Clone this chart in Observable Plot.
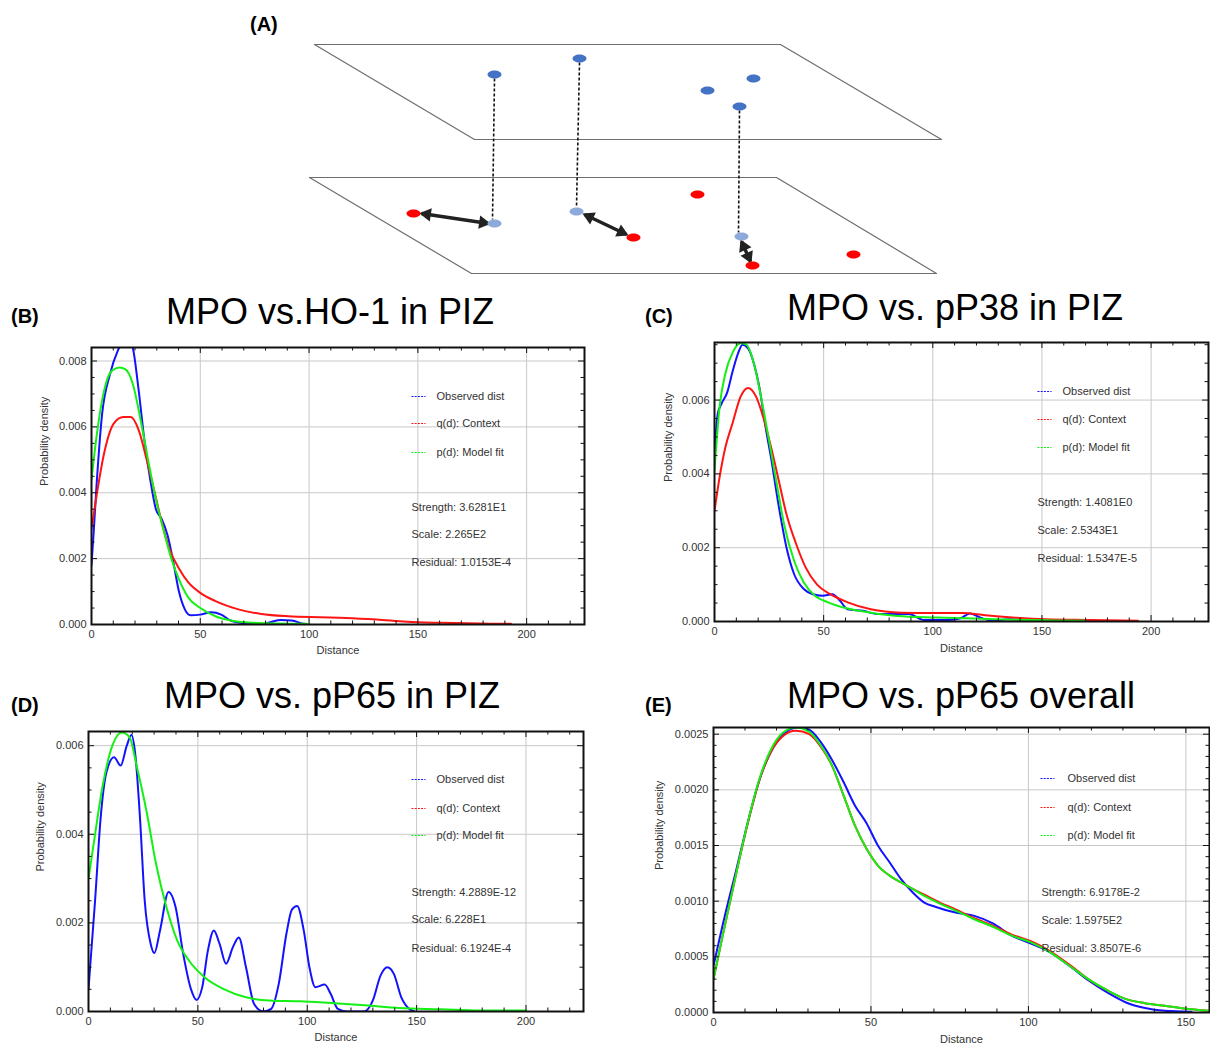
<!DOCTYPE html>
<html><head><meta charset="utf-8">
<script src="https://cdn.jsdelivr.net/npm/d3@7"></script>
<script src="https://cdn.jsdelivr.net/npm/@observablehq/plot@0.6"></script>
<style>
body{margin:0;background:#fff;font-family:"Liberation Sans",Arial,sans-serif;}
#root{position:relative;width:1210px;height:1044px;overflow:hidden;background:#fff;}
.abs{position:absolute;}
.title{font-size:36px;white-space:nowrap;transform:translateX(-50%);line-height:1;color:#000;}
.plabel{font-weight:bold;font-size:20px;line-height:1;color:#000;}
</style></head><body><div id="root"></div><script>
// ---------- Panel A schematic ----------
const planeUpper = [[314,44],[780,44],[941,139],[474,139],[314,44]];
const planeLower = [[309,177],[776,177],[936,273],[471,273],[309,177]];
const dotsBlue = [[494,74],[579,58],[707,90],[753,78],[739,106]];
const dotsLightBlue = [[494,223],[576,211],[741,236]];
const dotsRed = [[413,213],[633,237],[697,194],[752,265],[853,254]];
const connectors = [[494,78,492,219],[579,62,576,207],[739,110,738,232]];
const arrows = [[421,213,488,223],[584,214,626,234],[741,241,750,261]];

// ---------- Titles / labels ----------
const titles = ["MPO vs.HO-1 in PIZ","MPO vs. pP38 in PIZ","MPO vs. pP65 in PIZ","MPO vs. pP65 overall"];
const panelLetters = ["(A)","(B)","(C)","(D)","(E)"];
const legendLabels = ["Observed dist","q(d): Context","p(d): Model fit"];
const legendColors = ["#1212ff","#ff1414","#14f014"];
const xTicks200 = [0,50,100,150,200];
const xTicks150 = [0,50,100,150];
const yTicksPIZ = [0,0.002,0.004,0.006,0.008];
const yTicksOverall = [0,0.0005,0.001,0.0015,0.002,0.0025];

// ---------- Panel B ----------
const bObserved = [[0,0.0018],[1,0.0028],[2.3,0.0042],[4.9,0.0064],[8.5,0.0076],[12,0.0083],[14.6,0.0086],[17,0.0087],[19,0.0084],[21.7,0.0071],[24.3,0.0056],[27,0.0044],[29.6,0.0035],[32.3,0.0032],[35,0.0027],[37.6,0.0019],[40.2,0.001],[42.9,0.00046],[45.5,0.00028],[50,0.0003],[55,0.00037],[59.6,0.0003],[64,0.00012],[71,0.00003],[78,0],[82.5,0.00008],[87,0.00014],[92,0.00012],[97.5,0.00002],[99,0]];
const bContext = [[0,0.0029],[2.3,0.0039],[5.8,0.0052],[10.2,0.0061],[14.6,0.0063],[18,0.0063],[21.7,0.0059],[25,0.0051],[28.7,0.0041],[32.3,0.0031],[35.8,0.0023],[40.2,0.0017],[44.6,0.00127],[50,0.00096],[57,0.00071],[67.5,0.00046],[78,0.00032],[90.5,0.00025],[104.6,0.00022],[117,0.0002],[131,0.00015],[145,0.00008],[161,0.00005],[178.7,0.00003],[192.8,0.00002]];
const bModel = [[0,0.0044],[2.3,0.0057],[5.8,0.0071],[9.3,0.0077],[12.9,0.0078],[15.5,0.00775],[19,0.0073],[22.6,0.0062],[26,0.005],[29.6,0.0038],[33,0.0029],[36.7,0.002],[40.2,0.00137],[44.6,0.00081],[50,0.0005],[57,0.00025],[64,0.00012],[74.6,0.00005],[85,0.00003],[99,0.00002]];
const bStats = ["Strength: 3.6281E1","Scale: 2.265E2","Residual: 1.0153E-4"];

// ---------- Panel C ----------
const cObserved = [[0,0.0045],[1.4,0.0056],[3.2,0.0059],[5.8,0.0062],[8.4,0.0068],[11,0.0073],[12.8,0.0075],[15.4,0.0074],[18,0.007],[20.7,0.0063],[23.3,0.0053],[26,0.0044],[29.5,0.0031],[33,0.002],[36.5,0.00128],[40.9,0.00088],[45,0.00074],[49.6,0.0007],[54,0.00074],[57.5,0.00056],[61,0.00033],[68,0.00029],[75,0.0002],[84,0.0002],[89,0.0002],[96,0.00004],[106.7,0.00004],[112.8,0.00009],[117,0.00022],[121.6,0.00011],[127.7,0.00002],[134.7,0.00006],[141.7,0.00004]];
const cContext = [[0,0.003],[2.3,0.0039],[4.9,0.0047],[8.4,0.0054],[12,0.0061],[15.4,0.00633],[19,0.0061],[22.5,0.0055],[26,0.0047],[29.5,0.0038],[33,0.0029],[37.4,0.0021],[41.8,0.00146],[47,0.001],[53,0.00074],[61,0.00052],[71.6,0.00033],[85.6,0.00024],[101,0.00023],[113.7,0.00023],[124,0.00017],[136.5,0.00011],[152,0.00006],[171.6,0.00004],[194,0.00002]];
const cModel = [[0,0.0041],[2.3,0.0058],[4.9,0.0067],[8.4,0.0073],[12,0.00754],[14.6,0.0075],[18,0.007],[21.6,0.006],[25,0.0049],[28.6,0.0037],[32,0.0026],[36.5,0.00164],[40.9,0.00106],[46,0.0007],[52,0.00052],[61,0.00035],[71.6,0.00024],[84,0.00015],[101,0.00011],[119,0.00008],[136.5,0.00005],[154,0.00003],[170,0.00002]];
const cStats = ["Strength: 1.4081E0","Scale: 2.5343E1","Residual: 1.5347E-5"];

// ---------- Panel D ----------
const dObserved = [[0,0.00051],[3,0.0025],[5.6,0.0044],[8.2,0.0054],[11.7,0.00574],[14.7,0.00555],[17.5,0.006],[19.6,0.00624],[21.4,0.0058],[23.5,0.0044],[25.7,0.0025],[28.4,0.00153],[30.1,0.00132],[32.7,0.00183],[36.6,0.0027],[39.8,0.00236],[43.3,0.0013],[46.8,0.00051],[49.4,0.00026],[52,0.00055],[54.6,0.00138],[57.3,0.00183],[59.9,0.00153],[62.9,0.00108],[66,0.00145],[68.7,0.00167],[72,0.001],[75.7,0.00017],[80,0],[83.5,0.00006],[87,0.00063],[90.5,0.00176],[93,0.0023],[95.4,0.00238],[98.4,0.00183],[101,0.001],[103.7,0.00055],[108,0.00061],[110.7,0.0004],[114,0.00006],[118.6,0],[126,0],[130,0.00025],[133.5,0.00081],[136.6,0.001],[139.6,0.00085],[143,0.00032],[146.6,0.00006],[149,0]];
const dModel = [[0,0.003],[3,0.004],[6.5,0.0051],[10.9,0.006],[15.2,0.0063],[18.7,0.0062],[22.2,0.0055],[26.6,0.0045],[31,0.0033],[35.4,0.0024],[40.6,0.0016],[45.9,0.00115],[52.9,0.00078],[61.6,0.00051],[72,0.00032],[82.7,0.00025],[96.7,0.00023],[110.7,0.00019],[126.4,0.00014],[142,0.00008],[161.5,0.00005],[179,0.00002],[200,0.00002]];
const dStats = ["Strength: 4.2889E-12","Scale: 6.228E1","Residual: 6.1924E-4"];

// ---------- Panel E ----------
const eObserved = [[0,0.00042],[3.6,0.00087],[7.3,0.00129],[10.9,0.00171],[14.6,0.00209],[18.2,0.00234],[21.9,0.00249],[26.7,0.00256],[30.4,0.00254],[34,0.00243],[37.6,0.00227],[41.3,0.00207],[44.9,0.00186],[48.6,0.0017],[52.2,0.0015],[55.9,0.00135],[59.5,0.0012],[63.2,0.00108],[66.8,0.00099],[70.4,0.00095],[76.5,0.0009],[82.6,0.00087],[88.7,0.0008],[94.7,0.00069],[100.8,0.00062],[106.9,0.00054],[113,0.00042],[119,0.00029],[125,0.00018],[131,0.00009],[137,0.00004],[143.3,0.000015],[151.8,0.000006]];
const eContext = [[0,0.0003],[3.6,0.00078],[7.3,0.00126],[10.9,0.0017],[14.6,0.00209],[18.2,0.00234],[21.9,0.00248],[26.1,0.00253],[30.4,0.0025],[34,0.00239],[37.6,0.00222],[41.3,0.00195],[44.9,0.00168],[48.6,0.00147],[52.2,0.00132],[55.9,0.00123],[59.5,0.00117],[63.2,0.00111],[66.8,0.00106],[71.7,0.00099],[76.5,0.00093],[82.6,0.00085],[88.7,0.00078],[94.7,0.0007],[100.8,0.00064],[106.9,0.00055],[113,0.00043],[119,0.0003],[125,0.0002],[131,0.00012],[137,0.000084],[143.3,0.00006],[149.4,0.000036],[157.3,0.000015]];
const eModel = [[0,0.0003],[3.6,0.00078],[7.3,0.00126],[10.9,0.00171],[14.6,0.0021],[18.2,0.00236],[21.9,0.00251],[26.1,0.00256],[30.4,0.00252],[34,0.0024],[37.6,0.00222],[41.3,0.00195],[44.9,0.00168],[48.6,0.00147],[52.2,0.00132],[55.9,0.00123],[59.5,0.00117],[63.2,0.00111],[66.8,0.00105],[71.7,0.00098],[76.5,0.00092],[82.6,0.00084],[88.7,0.00077],[94.7,0.00069],[100.8,0.00063],[106.9,0.00054],[113,0.00042],[119,0.0003],[125,0.0002],[131,0.00012],[137,0.000084],[143.3,0.00006],[149.4,0.000036],[157.3,0.000015]];
const eStats = ["Strength: 6.9178E-2","Scale: 1.5975E2","Residual: 3.8507E-6"];

const root = document.getElementById("root");
function place(node, left, top) {
  const d = document.createElement("div");
  d.className = "abs"; d.style.left = left + "px"; d.style.top = top + "px";
  d.appendChild(node); root.appendChild(d); return d;
}
function addText(txt, cls, left, top) {
  const d = document.createElement("div");
  d.className = "abs " + cls; d.textContent = txt;
  d.style.left = left + "px"; d.style.top = top + "px";
  root.appendChild(d);
}

// ---- Panel A ----
const ellipse = {
  draw(ctx, size) {
    const r = Math.sqrt(size / Math.PI), rx = r, ry = r * 0.58, k = 0.5523;
    ctx.moveTo(rx, 0);
    ctx.bezierCurveTo(rx, ry * k, rx * k, ry, 0, ry);
    ctx.bezierCurveTo(-rx * k, ry, -rx, ry * k, -rx, 0);
    ctx.bezierCurveTo(-rx, -ry * k, -rx * k, -ry, 0, -ry);
    ctx.bezierCurveTo(rx * k, -ry, rx, -ry * k, rx, 0);
    ctx.closePath();
  }
};
const hline = {
  draw(ctx, size) {
    const r = Math.sqrt(size / Math.PI);
    ctx.moveTo(-r, 0); ctx.lineTo(r, 0);
  }
};
const heads = [];
arrows.forEach(([x1, y1, x2, y2]) => {
  const a = Math.atan2(y2 - y1, x2 - x1), L = 5.5;
  heads.push({x: x2 - L * Math.cos(a), y: y2 - L * Math.sin(a), r: a * 180 / Math.PI + 90});
  heads.push({x: x1 + L * Math.cos(a), y: y1 + L * Math.sin(a), r: a * 180 / Math.PI - 90});
});
const plotA = Plot.plot({
  width: 1210, height: 280, margin: 0,
  x: {domain: [0, 1210], range: [0, 1210], axis: null},
  y: {domain: [0, 280], range: [0, 280], axis: null},
  marks: [
    Plot.line(planeUpper, {x: d => d[0], y: d => d[1], stroke: "#6e6e6e", strokeWidth: 1.2}),
    Plot.line(planeLower, {x: d => d[0], y: d => d[1], stroke: "#6e6e6e", strokeWidth: 1.2}),
    Plot.link(connectors, {x1: d => d[0], y1: d => d[1], x2: d => d[2], y2: d => d[3], stroke: "#111", strokeWidth: 1.6, strokeDasharray: "3,2"}),
    Plot.link(arrows, {x1: d => d[0], y1: d => d[1], x2: d => d[2], y2: d => d[3], stroke: "#222", strokeWidth: 3.5}),
    Plot.dot(heads, {x: "x", y: "y", rotate: "r", symbol: "triangle", r: 5, fill: "#222", stroke: "none"}),
    Plot.dot(dotsBlue, {x: d => d[0], y: d => d[1], symbol: ellipse, r: 7, fill: "#4472c4", stroke: "none"}),
    Plot.dot(dotsLightBlue, {x: d => d[0], y: d => d[1], symbol: ellipse, r: 7, fill: "#8eaadb", stroke: "none"}),
    Plot.dot(dotsRed, {x: d => d[0], y: d => d[1], symbol: ellipse, r: 7, fill: "#ff0000", stroke: "none"})
  ]
});
place(plotA, 0, 0);
addText(panelLetters[0], "plabel", 250, 14);

// ---- Curve panels ----
function panel(cfg) {
  const {left, top, width, height, ml, mr, mt, mb, xmax, ymax, xTicks, yTicks, yMinorStep, yfmt,
    observed, context, model, stats, dashDx, textDx, statDx, dys, ylabDx, xlabDy} = cfg;
  const innerH = height - mt - mb, innerW = width - ml - mr;
  const xMinor = d3.range(0, xmax, 10).filter(v => !xTicks.includes(v));
  const yMinor = d3.range(0, ymax, yMinorStep).filter(v => !yTicks.some(t => Math.abs(t - v) < 1e-9));
  const txt = {fontSize: 11, fill: "#333", textAnchor: "start", frameAnchor: "top-left", lineAnchor: "middle"};
  const marks = [
    Plot.gridX(xTicks, {stroke: "#c8c8c8", strokeOpacity: 1, strokeWidth: 1}),
    Plot.gridY(yTicks, {stroke: "#c8c8c8", strokeOpacity: 1, strokeWidth: 1}),
  ];
  if (observed) marks.push(Plot.line(observed, {x: d => d[0], y: d => d[1], stroke: legendColors[0], strokeWidth: 2, curve: "monotone-x", clip: true}));
  if (context) marks.push(Plot.line(context, {x: d => d[0], y: d => d[1], stroke: legendColors[1], strokeWidth: 2, curve: "monotone-x", clip: true}));
  if (model) marks.push(Plot.line(model, {x: d => d[0], y: d => d[1], stroke: legendColors[2], strokeWidth: 2, curve: "monotone-x", clip: true}));
  // tick marks pointing inward on all four sides
  [[xTicks, 6], [xMinor, 3.5]].forEach(([t, len]) => {
    marks.push(Plot.tickX(t, {x: d => d, insetTop: innerH - len, stroke: "#111"}));
    marks.push(Plot.tickX(t, {x: d => d, insetBottom: innerH - len, stroke: "#111"}));
  });
  [[yTicks, 6], [yMinor, 3.5]].forEach(([t, len]) => {
    marks.push(Plot.tickY(t, {y: d => d, insetRight: innerW - len, stroke: "#111"}));
    marks.push(Plot.tickY(t, {y: d => d, insetLeft: innerW - len, stroke: "#111"}));
  });
  marks.push(Plot.frame({stroke: "#111", strokeWidth: 2}));
  marks.push(Plot.axisX(xTicks, {tickSize: 0, tickPadding: 6, tickFormat: d => String(d), label: null, fontSize: 11, fill: "#333"}));
  marks.push(Plot.axisY(yTicks, {tickSize: 0, tickPadding: 5, tickFormat: d3.format(yfmt), label: null, fontSize: 11, fill: "#333"}));
  marks.push(Plot.text(["Distance"], {fontSize: 11, fill: "#333", frameAnchor: "bottom", lineAnchor: "middle", dy: xlabDy}));
  marks.push(Plot.text(["Probability density"], {fontSize: 11, fill: "#333", frameAnchor: "left", lineAnchor: "middle", dx: ylabDx, rotate: -90}));
  legendLabels.forEach((lab, i) => {
    marks.push(Plot.dot([0], {frameAnchor: "top-left", dx: dashDx + 7, dy: dys[i], symbol: hline, r: 7, stroke: legendColors[i], strokeWidth: 1, strokeDasharray: "2,1.2", fill: "none"}));
    marks.push(Plot.text([lab], {...txt, dx: textDx, dy: dys[i]}));
  });
  stats.forEach((s, i) => marks.push(Plot.text([s], {...txt, dx: statDx, dy: dys[3 + i]})));
  const svg = Plot.plot({
    width, height, marginLeft: ml, marginRight: mr, marginTop: mt, marginBottom: mb,
    x: {domain: [0, xmax]}, y: {domain: [0, ymax]},
    style: {fontFamily: "'Liberation Sans', Arial, sans-serif", fontSize: "11px", color: "#333", background: "transparent", overflow: "visible"},
    marks
  });
  place(svg, left, top);
}

panel({left: 0, top: 330, width: 600, height: 340, ml: 91, mr: 16, mt: 17, mb: 46, xmax: 226.6, ymax: 0.00841,
  xTicks: xTicks200, yTicks: yTicksPIZ, yMinorStep: 0.0005, yfmt: ".3f",
  observed: bObserved, context: bContext, model: bModel, stats: bStats,
  dashDx: 320, textDx: 345, statDx: 320, dys: [49, 76, 105, 160, 187, 215], ylabDx: -47, xlabDy: 26});
panel({left: 610, top: 325, width: 600, height: 345, ml: 104, mr: 2, mt: 17, mb: 49, xmax: 226.3, ymax: 0.00756,
  xTicks: xTicks200, yTicks: yTicksPIZ.slice(0, 4), yMinorStep: 0.0005, yfmt: ".3f",
  observed: cObserved, context: cContext, model: cModel, stats: cStats,
  dashDx: 323, textDx: 348, statDx: 323, dys: [49, 77, 105, 160, 188, 216], ylabDx: -46, xlabDy: 27});
panel({left: 0, top: 715, width: 600, height: 329, ml: 88, mr: 17, mt: 16, mb: 33, xmax: 226.3, ymax: 0.00632,
  xTicks: xTicks200, yTicks: yTicksPIZ.slice(0, 4), yMinorStep: 0.0005, yfmt: ".3f",
  observed: dObserved, context: null, model: dModel, stats: dStats,
  dashDx: 323, textDx: 348, statDx: 323, dys: [48, 77, 104, 161, 188, 217], ylabDx: -48, xlabDy: 26});
panel({left: 610, top: 712, width: 600, height: 332, ml: 103, mr: 1, mt: 15, mb: 32, xmax: 157.5, ymax: 0.00256,
  xTicks: xTicks150, yTicks: yTicksOverall, yMinorStep: 0.0001, yfmt: ".4f",
  observed: eObserved, context: eContext, model: eModel, stats: eStats,
  dashDx: 327, textDx: 354, statDx: 328, dys: [51, 80, 108, 165, 193, 221], ylabDx: -54, xlabDy: 27});

addText(titles[0], "title", 330, 294);
addText(titles[1], "title", 955, 290);
addText(titles[2], "title", 332, 678);
addText(titles[3], "title", 961, 678);
addText(panelLetters[1], "plabel", 11, 306);
addText(panelLetters[2], "plabel", 645, 306);
addText(panelLetters[3], "plabel", 11, 695);
addText(panelLetters[4], "plabel", 645, 695);
</script></body></html>
